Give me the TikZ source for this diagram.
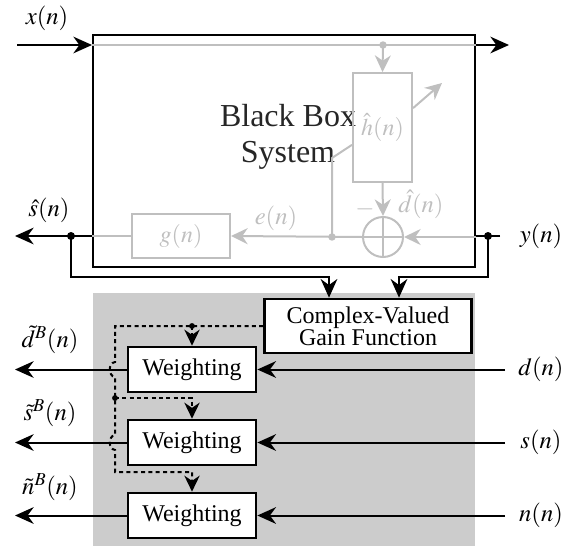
\documentclass[tikz,border=0pt]{standalone}
\usepackage{mathptmx}
\usepackage{fontspec}
\setmainfont{Liberation Serif}
\usepackage{tikz}
\usetikzlibrary{arrows.meta,positioning,calc}
\colorlet{lgray}{black!25}
\colorlet{bgshade}{black!20}

\begin{document}
\begin{tikzpicture}[x=0.75pt, y=-0.75pt,
  blk/.style={draw, line width=1.5pt, inner sep=0pt},
  wbox/.style={draw, line width=2pt, fill=white, minimum width=96pt,
               minimum height=33.75pt, inner sep=0pt,
               font=\fontsize{18}{19}\selectfont},
  gbx/.style={draw=lgray, line width=1.5pt, inner sep=0pt, text=lgray,
              font=\fontsize{18}{20}\selectfont},
  lbl/.style={font=\fontsize{18.5}{20}\selectfont},
  glbl/.style={lbl, text=lgray},
  sig/.style={line width=1.5pt},
  arr/.style={sig, -{Stealth[length=14pt,width=12.5pt]}},
  gline/.style={line width=1.5pt, draw=lgray},
  garr/.style={gline, -{Stealth[length=12.5pt,width=12pt]}},
  ctrl/.style={line width=1.5pt, dash pattern=on 3pt off 2.5pt},
  carr/.style={ctrl, -{Stealth[length=12pt,width=11.5pt]}}
]
\useasboundingbox (0,0) rectangle (574,546);
\fill[bgshade] (93,293) rectangle (475,546);

% black box system
\node[blk, minimum width=286.5pt, minimum height=174pt] (bbox) at (284,151) {};
\node[font=\fontsize{24}{27}\selectfont, align=center, text=black!85] (bbtxt) at (288,137) {Black Box\\System};

\node[gbx, minimum width=44.25pt, minimum height=81.75pt] (hbox) at (382.5,127.5) {$\hat{h}(n)$};
\node[gbx, circle, minimum size=30pt] (sum) at (383,237) {};
\node[gbx, minimum width=73.5pt, minimum height=33pt] (gbox) at (181,236) {$g(n)$};

\coordinate (xin) at (17,45);
\coordinate (xout) at (509,45);
\coordinate (xtap) at (383,45);
\coordinate (etap) at (332,237);
\coordinate (adapt) at (442,83);
\coordinate (sdot) at (71,236);
\coordinate (sout) at (15,236);
\coordinate (ydot) at (488,236);
\coordinate (yin) at (500,236);

\draw[arr] (xin) -- (bbox.west |- xin);
\draw[gline] (bbox.west |- xin) -- (bbox.east |- xin);
\draw[arr] (bbox.east |- xin) -- (xout);
\fill[lgray] (xtap) circle (2.8pt);
\draw[garr] (xtap) -- (hbox.north);
\draw[garr] ([yshift=14.5pt]hbox.east) -- (adapt);
\draw[garr] (hbox.south) -- (sum.north);
\draw[gline] (sum.north) -- (sum.south) (sum.west) -- (sum.east);
\draw[gline] ([yshift=-13pt]hbox.west) -- (332,158) -- (etap);
\fill[lgray] (etap) circle (2.8pt);
\draw[garr] (bbox.east |- sum) -- (sum.east);
\draw[garr] (sum.west) -- (gbox.east);
\draw[gline] (gbox.west) -- (bbox.west |- gbox);

\node[glbl] (hdlbl) at (421,204) {$\hat{d}(n)$};
\node[glbl] (minus) at (365,209) {$-$};
\node[glbl] (elbl) at (276,218) {$e(n)$};

\draw[sig] (yin) -- (bbox.east |- yin);
\draw[arr] (bbox.west |- sout) -- (sout);
\fill (sdot) circle (3pt);
\fill (ydot) circle (3pt);

\node[lbl] (xlbl) at (47,18) {$x(n)$};
\node[lbl] (slbl) at (49,210) {$\hat{s}(n)$};
\node[lbl] (ylbl) at (541,236) {$y(n)$};

% gain and weighting
\node[wbox, minimum width=155.25pt, minimum height=40.5pt, align=center,
      font=\fontsize{18}{15}\selectfont] (gain) at (368,326) {Complex-Valued\\Gain Function};
\draw[arr] (sdot) -- ++(0,41) -| ([xshift=-29.25pt]gain.north);
\draw[arr] (ydot) -- ++(0,41) -| ([xshift=23.25pt]gain.north);

\node[wbox] (wd) at (192,369.5) {Weighting};
\node[wbox] (ws) at (192,442.5) {Weighting};
\node[wbox] (wn) at (192,515.5) {Weighting};

\coordinate (din) at (505,369.5);
\coordinate (sin) at (505,442.5);
\coordinate (nin) at (505,515.5);
\coordinate (dout) at (15,369.5);
\coordinate (sout2) at (15,442.5);
\coordinate (nout) at (15,515.5);

\draw[arr] (din) -- (wd.east);
\draw[arr] (sin) -- (ws.east);
\draw[arr] (nin) -- (wn.east);
\draw[arr] (wd.west) -- (dout);
\draw[arr] (ws.west) -- (sout2);
\draw[arr] (wn.west) -- (nout);

\node[lbl] (dlbl) at (541,369.5) {$d(n)$};
\node[lbl] (slbl2) at (541,442.5) {$s(n)$};
\node[lbl] (nlbl) at (541,515.5) {$n(n)$};
\node[lbl] (dtlbl) at (50,340) {$\tilde{d}^B(n)$};
\node[lbl] (stlbl) at (50,413) {$\tilde{s}^B(n)$};
\node[lbl] (ntlbl) at (50,487) {$\tilde{n}^B(n)$};

\coordinate (dd1) at (192,326);
\coordinate (dd2) at (115,398);
\draw[carr] (gain.west) -- (115,326) -- (115,362)
  .. controls (108,363) and (108,376) .. (115,377) -- (115,435)
  .. controls (108,436) and (108,449) .. (115,450) -- (115,472) -| (wn.north);
\draw[carr] (dd1) -- (wd.north);
\draw[carr] (dd2) -| (ws.north);
\fill (dd1) circle (2.2pt);
\fill (dd2) circle (2.2pt);

\end{tikzpicture}
\end{document}
